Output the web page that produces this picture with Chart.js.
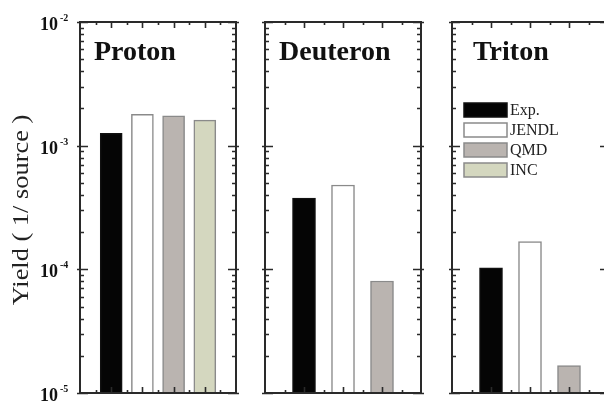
<!DOCTYPE html>
<html>
<head>
<meta charset="utf-8">
<script src="https://cdn.jsdelivr.net/npm/chart.js@4"></script>
<style>
  html, body { margin: 0; padding: 0; background: #fff; overflow: hidden; }
  #wrap { position: relative; width: 604px; height: 403px; overflow: hidden; }
  canvas { position: absolute; left: 0; top: 0; }
</style>
</head>
<body>
<div id="wrap">
  <canvas id="proton" width="620" height="403"></canvas>
  <canvas id="deuteron" width="620" height="403"></canvas>
  <canvas id="triton" width="620" height="403"></canvas>
</div>
<script>
// data
const panelTitles = ['Proton', 'Deuteron', 'Triton'];
const seriesNames = ['Exp.', 'JENDL', 'QMD', 'INC'];
const protonYield = [1.26e-3, 1.79e-3, 1.74e-3, 1.61e-3];
const deuteronYield = [3.76e-4, 4.81e-4, 8.05e-5];
const tritonYield = [1.03e-4, 1.68e-4, 1.67e-5];
const yTickValues = [1e-5, 1e-4, 1e-3, 1e-2];
const yTickExponents = ['-5', '-4', '-3', '-2'];

const fills = ['#050505', '#ffffff', '#bab4b0', '#d4d7bf'];
const edges = ['#111111', '#8a8a8a', '#8a8a8a', '#8a8a8a'];
const serif = '"Liberation Serif", "DejaVu Serif", serif';

const frame = {
  id: 'frame',
  afterDraw(chart, args, o) {
    const ctx = chart.ctx;
    const { left, right, top, bottom } = chart.chartArea;
    const xs = chart.scales.x, ys = chart.scales.y;
    ctx.save();
    ctx.strokeStyle = '#2a2a2a';
    ctx.lineWidth = 2;
    ctx.strokeRect(left, top, right - left, bottom - top);

    // log ticks on both sides, pointing inward
    ctx.lineWidth = 1.6;
    ctx.beginPath();
    for (let d = -5; d <= -2; d++) {
      for (let m = 1; m <= (d === -2 ? 1 : 9); m++) {
        const py = Math.round(ys.getPixelForValue(m * Math.pow(10, d))) + 0.5;
        const major = m === 1;
        const len = major ? 8 : 4;
        ctx.moveTo(left - (major ? 3 : 0), py); ctx.lineTo(left + len, py);
        ctx.moveTo(right + (major ? 3 : 0), py); ctx.lineTo(right - len, py);
      }
    }
    // x ticks at halves, top and bottom
    for (let v = 0.5; v < xs.max; v += 0.5) {
      const px = Math.round(xs.getPixelForValue(v)) + 0.5;
      const len = Number.isInteger(v) ? 6 : 3;
      ctx.moveTo(px, bottom); ctx.lineTo(px, bottom - len);
      ctx.moveTo(px, top); ctx.lineTo(px, top + len);
    }
    ctx.stroke();

    // panel title
    ctx.fillStyle = '#111';
    ctx.font = 'bold 28px ' + serif;
    ctx.textBaseline = 'alphabetic';
    ctx.textAlign = 'left';
    ctx.fillText(o.title, left + o.titleDx, 60);

    if (o.yLabels) {
      yTickValues.forEach((v, i) => {
        const py = ys.getPixelForValue(v);
        ctx.font = 'bold 18px ' + serif;
        ctx.textAlign = 'right';
        ctx.fillText('10', 58, py + 8);
        ctx.font = 'bold 10px ' + serif;
        ctx.textAlign = 'left';
        ctx.fillText(yTickExponents[i], 60, py - 1);
      });
      ctx.save();
      ctx.translate(22, 210);
      ctx.rotate(-Math.PI / 2);
      ctx.scale(1.1, 1);
      ctx.font = '24px ' + serif;
      ctx.textAlign = 'center';
      ctx.textBaseline = 'middle';
      ctx.fillStyle = '#222';
      ctx.fillText('Yield ( 1/ source )', 0, 0);
      ctx.restore();
    }

    if (o.legend) {
      ctx.font = '16px ' + serif;
      ctx.textAlign = 'left';
      ctx.textBaseline = 'middle';
      seriesNames.forEach((name, i) => {
        const y0 = 103 + i * 20;
        ctx.fillStyle = fills[i];
        ctx.fillRect(464, y0, 43, 14);
        ctx.strokeStyle = edges[i];
        ctx.lineWidth = 1.5;
        ctx.strokeRect(464, y0, 43, 14);
        ctx.fillStyle = '#222';
        ctx.fillText(name, 510, y0 + 7.5);
      });
    }
    ctx.restore();
  }
};

function makePanel(id, values, left, right, xMax, thickness, frameOpts) {
  const n = values.length;
  return new Chart(document.getElementById(id), {
    type: 'bar',
    data: {
      datasets: [{
        data: values.map((v, i) => ({ x: i + 1, y: v })),
        backgroundColor: fills.slice(0, n),
        borderColor: edges.slice(0, n),
        borderWidth: 1.5,
        barThickness: thickness
      }]
    },
    options: {
      responsive: false,
      animation: false,
      devicePixelRatio: 1,
      layout: { padding: { left: left, right: 620 - right, top: 22, bottom: 10 } },
      scales: {
        x: { type: 'linear', min: 0, max: xMax, offset: false, display: false },
        y: { type: 'logarithmic', min: 1e-5, max: 1e-2, display: false }
      },
      plugins: {
        legend: { display: false },
        tooltip: { enabled: false },
        frame: frameOpts
      }
    },
    plugins: [frame]
  });
}

makePanel('proton', protonYield, 80, 236, 5, 22,
  { title: panelTitles[0], titleDx: 14, yLabels: true, legend: false });
makePanel('deuteron', deuteronYield, 265, 421, 4, 23,
  { title: panelTitles[1], titleDx: 14, yLabels: false, legend: false });
makePanel('triton', tritonYield, 452, 608, 4, 23,
  { title: panelTitles[2], titleDx: 21, yLabels: false, legend: true });
</script>
</body>
</html>
